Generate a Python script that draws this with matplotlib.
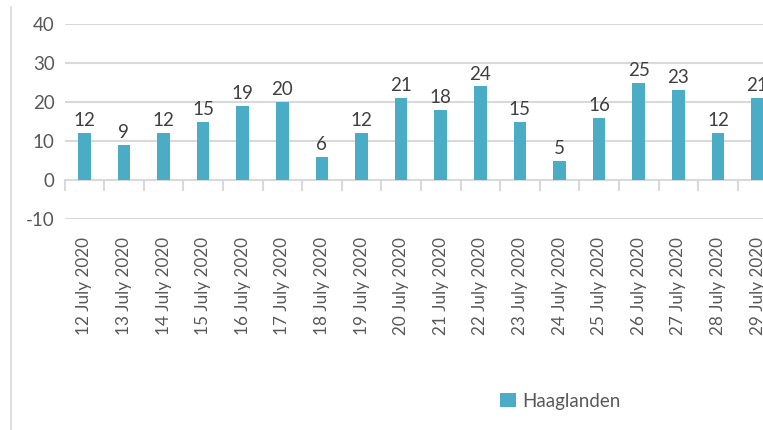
import matplotlib
matplotlib.use("Agg")
import matplotlib.pyplot as plt
from matplotlib.lines import Line2D

dates = ["12 July 2020", "13 July 2020", "14 July 2020", "15 July 2020", "16 July 2020",
         "17 July 2020", "18 July 2020", "19 July 2020", "20 July 2020", "21 July 2020",
         "22 July 2020", "23 July 2020", "24 July 2020", "25 July 2020", "26 July 2020",
         "27 July 2020", "28 July 2020", "29 July 2020"]
haaglanden = [12, 9, 12, 15, 19, 20, 6, 12, 21, 18, 24, 15, 5, 16, 25, 23, 12, 21]
yticks = [-10, 0, 10, 20, 30, 40]
series_name = "Haaglanden"

plt.rcParams['font.family'] = ['Lato', 'DejaVu Sans']

W, H = 763, 430
fig = plt.figure(figsize=(W / 100, H / 100), dpi=100)
fig.patch.set_facecolor('white')

n = len(dates)
cat_w = 39.6
left_px = 64.5
top_px, bot_px = 24, 219
ax = fig.add_axes([left_px / W, (H - bot_px) / H, n * cat_w / W, (bot_px - top_px) / H])
ax.set_facecolor('none')

bar_color = '#4BACC6'
grid_color = '#D9D9D9'
x = list(range(n))
bars = ax.bar(x, haaglanden, width=0.32, color=bar_color, zorder=3, label=series_name)
for xi, v in zip(x, haaglanden):
    ax.text(xi, v + 1.0, str(v), ha='center', va='bottom', fontsize=13.5,
            color='#404040', zorder=4)

ax.set_xlim(-0.5, n - 0.5)
ax.set_ylim(-10, 40)
ax.set_yticks(yticks)
ax.set_yticklabels([str(t) for t in yticks], fontsize=13.5, color='#595959')
ax.tick_params(axis='y', length=0, pad=7)
for t in yticks:
    if t != 0:
        ax.axhline(t, color=grid_color, linewidth=1.5, zorder=1)
ax.axhline(0, color=grid_color, linewidth=1.5, zorder=2)

for s in ax.spines.values():
    s.set_visible(False)

# category labels placed below the -10 gridline
ax.set_xticks(x)
ax.set_xticklabels([])
ax.tick_params(axis='x', length=0)
for xi, d in zip(x, dates):
    ax.annotate(d, xy=(xi, -10), xycoords='data', xytext=(0, -13), textcoords='offset points',
                rotation=90, ha='center', va='top', fontsize=12.3, color='#595959',
                annotation_clip=False)

# tick marks at category boundaries on the zero line
for b in range(n + 1):
    xb = b - 0.5
    ax.plot([xb, xb], [0, -2.6], color=grid_color, linewidth=1.5, zorder=2, clip_on=False)

# chart border line on left
fig.add_artist(Line2D([11 / W, 11 / W], [0, (H - 7) / H], color='#D9D9D9', linewidth=1.2))

leg = fig.legend(handles=[bars], labels=[series_name], loc='center', bbox_to_anchor=(560 / W, (H - 401) / H),
                 frameon=False, fontsize=13.5, handlelength=0.85, handleheight=0.85, handletextpad=0.35)
for t in leg.get_texts():
    t.set_color('#595959')

fig.savefig('out.png', dpi=100)
